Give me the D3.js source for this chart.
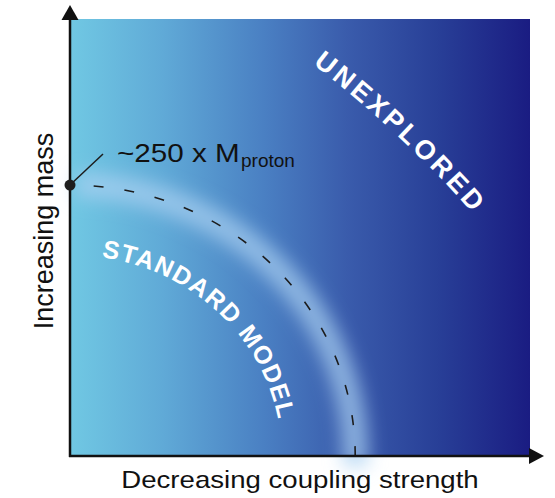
<!DOCTYPE html>
<html><head><meta charset="utf-8">
<script src="https://cdn.jsdelivr.net/npm/d3@7"></script>
<style>html,body{margin:0;padding:0;background:#fff;} svg{display:block;font-family:"Liberation Sans",Arial,Helvetica,sans-serif;}</style>
</head><body><svg id="c" width="555" height="498"></svg>
<script>
// ---- data ----
const xAxisTitle = "Decreasing coupling strength";
const yAxisTitle = "Increasing mass";
const regionNames = ["STANDARD MODEL", "UNEXPLORED"];
const annotationText = ["~250 x M", "proton"];
const frontierRadius = [0.62];          // standard-model frontier (coupling, mass units)
const labelRadius = [0.46];             // radius of the curved "STANDARD MODEL" label
const gradientColors = ["#70c8e3", "#60aad7", "#4a80c3", "#3a5cac", "#283f97", "#1a1c82"];
const gradientStops = [0, 0.2, 0.42, 0.6, 0.8, 1];

// ---- scales ----
const x = d3.scaleLinear([0, 1], [70, 530]);
const y = d3.scaleLinear([0, 1], [456, 19]);
const svg = d3.select("#c");
const defs = svg.append("defs");
const lg = defs.append("linearGradient").attr("id", "bg")
  .attr("x1", 0).attr("x2", 1).attr("y1", 0).attr("y2", 0);
gradientColors.forEach((c, i) => lg.append("stop").attr("offset", gradientStops[i]).attr("stop-color", c));
const glow = defs.append("filter").attr("id", "glow")
  .attr("x", "-50%").attr("y", "-50%").attr("width", "200%").attr("height", "200%");
glow.append("feGaussianBlur").attr("stdDeviation", 9);

// background field
svg.append("rect")
  .attr("x", x(0)).attr("y", y(1))
  .attr("width", x(1) - x(0)).attr("height", y(0) - y(1))
  .attr("fill", "url(#bg)");

// ellipse helpers (circle in data space)
const rx = r => x(r) - x(0), ry = r => y(0) - y(r);
const pt = (r, t) => [x(0) + rx(r) * Math.sin(t), y(0) - ry(r) * Math.cos(t)];
function arcPath(r, t0, t1) {
  const a = pt(r, t0), b = pt(r, t1);
  return `M${a[0]},${a[1]}A${rx(r)},${ry(r)} 0 0 ${t1 > t0 ? 1 : 0} ${b[0]},${b[1]}`;
}

const R = frontierRadius[0];
// glow band
svg.append("path").attr("d", arcPath(R, 0.02, Math.PI / 2 + 0.04))
  .attr("fill", "none").attr("stroke", "#a9d0f1").attr("stroke-width", 26)
  .attr("stroke-opacity", 0.72).attr("filter", "url(#glow)");
// dashed frontier
svg.append("path").attr("d", arcPath(R, Math.PI / 2, 0))
  .attr("fill", "none").attr("stroke", "#1c1c1c").attr("stroke-width", 1.6)
  .attr("stroke-dasharray", "10 21");

// curved STANDARD MODEL label
defs.append("path").attr("id", "smPath").attr("d", arcPath(labelRadius[0], 0.15, 1.55));
svg.append("text").attr("fill", "#fff").attr("font-weight", "bold").attr("font-size", 25)
  .attr("letter-spacing", 1.5)
  .append("textPath").attr("href", "#smPath").text(regionNames[0]);

// UNEXPLORED label on a gentle arc
defs.append("path").attr("id", "unPath").attr("d", "M294,50A1148,1148 0 0 1 490,233");
svg.append("text").attr("fill", "#fff").attr("font-weight", "bold").attr("font-size", 27)
  .attr("letter-spacing", 3.4).attr("text-anchor", "middle")
  .append("textPath").attr("href", "#unPath").attr("startOffset", "50%").text(regionNames[1]);

// axes
const axisColor = "#111";
svg.append("line").attr("x1", x(0)).attr("x2", x(0)).attr("y1", y(0) + 1).attr("y2", y(1))
  .attr("stroke", axisColor).attr("stroke-width", 2.5);
svg.append("line").attr("x1", x(0) - 1).attr("x2", x(1)).attr("y1", y(0)).attr("y2", y(0))
  .attr("stroke", axisColor).attr("stroke-width", 2.5);
svg.append("path").attr("d", `M${x(0)},${y(1) - 14}L${x(0) + 8.5},${y(1) + 1}L${x(0) - 8.5},${y(1) + 1}Z`).attr("fill", axisColor);
svg.append("path").attr("d", `M${x(1) + 14},${y(0)}L${x(1) - 1},${y(0) - 8}L${x(1) - 1},${y(0) + 8}Z`).attr("fill", axisColor);

// annotation
const dot = [x(0), y(R)];
svg.append("line").attr("x1", dot[0]).attr("y1", dot[1]).attr("x2", dot[0] + 33).attr("y2", dot[1] - 31)
  .attr("stroke", "#1c1c1c").attr("stroke-width", 1.5);
svg.append("circle").attr("cx", dot[0]).attr("cy", dot[1]).attr("r", 5.5).attr("fill", "#1e1e1e");
svg.append("text").attr("transform", "translate(117,162) scale(1.14,1)")
  .attr("font-size", 26).attr("fill", "#111").text(annotationText[0]);
svg.append("text").attr("x", 241).attr("y", 167)
  .attr("font-size", 19).attr("fill", "#111").text(annotationText[1]);

// axis titles
svg.append("text").attr("transform", `translate(${(x(0) + x(1)) / 2},488) scale(1.15,1)`)
  .attr("text-anchor", "middle").attr("font-size", 24).attr("fill", "#111").text(xAxisTitle);
svg.append("text").attr("transform", "translate(53,231) rotate(-90)")
  .attr("text-anchor", "middle").attr("font-size", 27).attr("fill", "#111").text(yAxisTitle);
</script></body></html>
